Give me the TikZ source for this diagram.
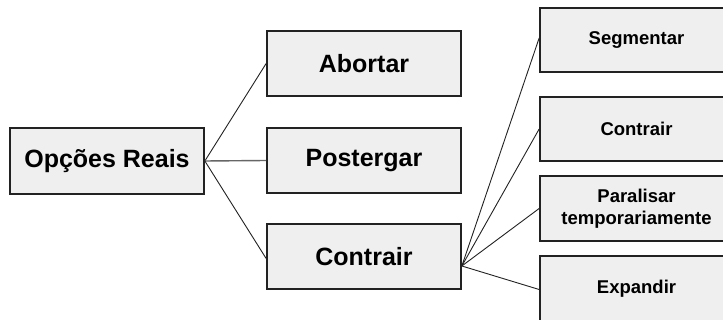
\documentclass[tikz,border=0pt]{standalone}
\usepackage{fontspec}
\setmainfont{Liberation Sans}
\definecolor{boxfill}{HTML}{EEEFEE}
\definecolor{boxline}{HTML}{222222}
\begin{document}
\begin{tikzpicture}[x=1pt,y=-1pt,
  optbox/.style={draw=boxline, line width=1.7pt, fill=boxfill, rectangle,
    inner sep=0pt, align=center, font=\bfseries\fontsize{25}{28}\selectfont},
  subbox/.style={optbox, font=\bfseries\fontsize{18.5}{22}\selectfont},
  link/.style={draw=boxline, line width=0.9pt}]
\useasboundingbox (0,0) rectangle (723,320);
\clip (0,0) rectangle (723,320);

% first level
\node[optbox, minimum width=194pt, minimum height=66pt] (root) at (107,161) {Opções Reais};
\node[optbox, minimum width=194pt, minimum height=65pt] (abort) at (364,63.5) {Abortar};
\node[optbox, minimum width=194pt, minimum height=65pt] (delay) at (364,160.5) {Postergar};
\node[optbox, minimum width=194pt, minimum height=65pt] (shrink) at (364,256.5) {Contrair};

% second level (runs past the right and bottom edges)
\node[subbox, minimum width=193pt, minimum height=64pt] (seg) at (636.5,40) {Segmentar};
\node[subbox, minimum width=193pt, minimum height=64pt] (con) at (636.5,129) {Contrair};
\node[subbox, minimum width=193pt, minimum height=65pt] (par) at (636.5,208.5) {Paralisar\\temporariamente};
\node[subbox, minimum width=193pt, minimum height=65pt] (exp) at (636.5,288.5) {Expandir};

% connectors
\draw[link] (root.east) -- (abort.west);
\draw[link, draw=gray!80!black, line width=1.4pt] (root.east) -- (delay.west);
\draw[link] (root.east) -- ([yshift=-2pt]shrink.west);

\coordinate (fan) at ([yshift=-9.5pt]shrink.east);
\draw[link] (fan) -- ([yshift=2pt]seg.west);
\draw[link] (fan) -- (con.west);
\draw[link] (fan) -- (par.west);
\draw[link] (fan) -- ([yshift=-1pt]exp.west);
\end{tikzpicture}
\end{document}
